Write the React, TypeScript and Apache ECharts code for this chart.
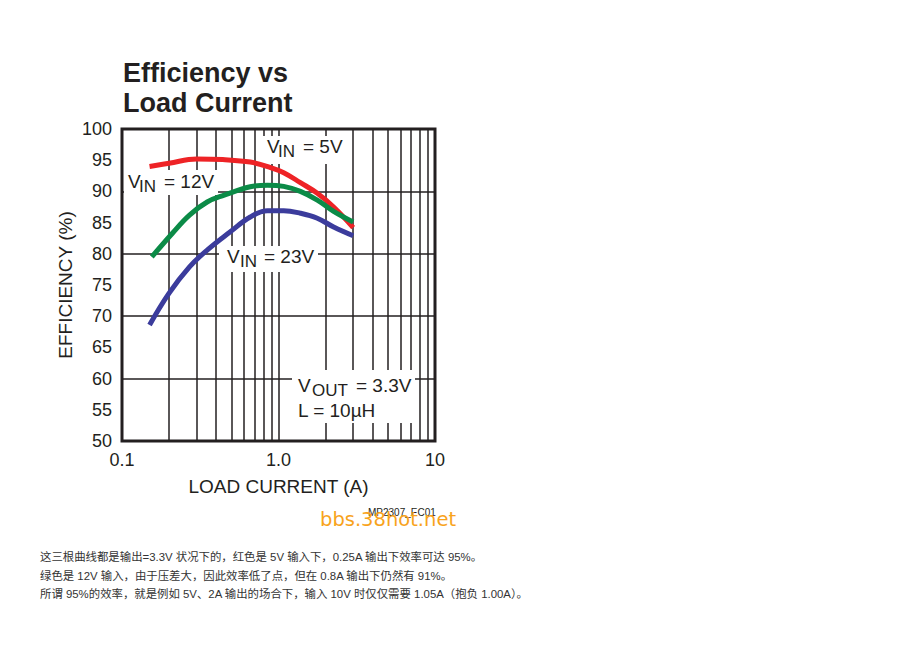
import React, { useEffect, useRef } from 'react';
import * as echarts from 'echarts';

// ---- data ----
const currents5V = [0.15, 0.2, 0.3, 0.44, 0.66, 0.89, 1.08, 1.38, 1.77, 2.25, 3.0];
const efficiency5V = [94.0, 94.5, 95.2, 95.1, 94.7, 93.8, 93.0, 91.4, 89.7, 87.5, 84.2];

const currents12V = [0.155, 0.21, 0.27, 0.35, 0.45, 0.66, 0.85, 1.08, 1.38, 1.77, 2.25, 3.0];
const efficiency12V = [79.5, 83.3, 86.2, 88.3, 89.4, 90.75, 91.0, 90.8, 90.0, 88.6, 86.8, 85.1];

const currents23V = [0.15, 0.2, 0.27, 0.35, 0.49, 0.66, 0.85, 1.08, 1.38, 1.77, 2.25, 3.0];
const efficiency23V = [68.6, 73.7, 77.9, 80.6, 83.5, 85.9, 86.9, 86.9, 86.5, 85.7, 84.3, 82.9];

const xTickValues = [0.1, 1, 10];
const xTickLabels = ['0.1', '1.0', '10'];
const xGridValues = [0.2, 0.3, 0.4, 0.5, 0.6, 0.7, 0.8, 0.9, 1, 2, 3, 4, 5, 6, 7, 8, 9];
const yGridValues = [60, 70, 80, 90];

const noteLines = [
  '这三根曲线都是输出=3.3V 状况下的，红色是 5V 输入下，0.25A 输出下效率可达 95%。',
  '绿色是 12V 输入，由于压差大，因此效率低了点，但在 0.8A 输出下仍然有 91%。',
  '所谓 95%的效率，就是例如 5V、2A 输出的场合下，输入 10V 时仅仅需要 1.05A（抱负 1.00A）。',
];

const FONT = '"Liberation Sans", Arial, Helvetica, sans-serif';
const INK = '#231f20';

function txt(x: number, y: number, text: string, fontSize: number, extra: any = {}) {
  return {
    type: 'text',
    x,
    y,
    z: 8,
    silent: true,
    style: {
      text,
      fill: INK,
      fontSize,
      fontFamily: FONT,
      align: 'left',
      textAlign: 'left',
      verticalAlign: 'middle',
      textVerticalAlign: 'middle',
      ...extra,
    },
  };
}

function box(x: number, y: number, w: number, h: number) {
  return {
    type: 'rect',
    z: 3,
    silent: true,
    shape: { x, y, width: w, height: h },
    style: { fill: '#ffffff' },
  };
}

function vinLabel(x0: number, yMid: number, rest: string, subDx: number, restDx: number) {
  return [
    txt(x0, yMid, 'V', 19),
    txt(x0 + subDx, yMid + 5, 'IN', 17),
    txt(x0 + restDx, yMid, rest, 19),
  ];
}

export default function App() {
  const ref = useRef<HTMLDivElement>(null);

  useEffect(() => {
    const chart = echarts.init(ref.current!, null, { renderer: 'svg' });

    const pairs = (xs: number[], ys: number[]) => xs.map((x, i) => [x, ys[i]]);

    const curve = (name: string, color: string, data: number[][]) => ({
      name,
      type: 'line',
      z: 6,
      data,
      smooth: 0.4,
      showSymbol: false,
      symbol: 'none',
      silent: true,
      lineStyle: { color, width: 5 },
    });

    chart.setOption({
      animation: false,
      backgroundColor: '#ffffff',
      grid: {
        left: 122,
        top: 129,
        width: 313,
        height: 312,
        show: true,
        borderColor: INK,
        borderWidth: 3,
        backgroundColor: 'transparent',
        containLabel: false,
        z: 0,
      },
      xAxis: {
        type: 'log',
        logBase: 10,
        min: 0.1,
        max: 10,
        axisLine: { show: false },
        axisTick: { show: false },
        splitLine: { show: false },
        minorTick: { show: false },
        axisLabel: {
          show: true,
          showMinLabel: true,
          showMaxLabel: true,
          margin: 10,
          fontSize: 18,
          color: INK,
          fontFamily: FONT,
          formatter: (v: number) => {
            const i = xTickValues.findIndex((t) => Math.abs(t - v) / t < 1e-6);
            return i >= 0 ? xTickLabels[i] : '';
          },
        },
        name: 'LOAD CURRENT (A)',
        nameLocation: 'middle',
        nameGap: 36,
        nameTextStyle: { fontSize: 19, color: INK, fontFamily: FONT },
      },
      yAxis: {
        type: 'value',
        min: 50,
        max: 100,
        interval: 5,
        axisLine: { show: false },
        axisTick: { show: false },
        splitLine: { show: false },
        axisLabel: { margin: 10, fontSize: 18, color: INK, fontFamily: FONT },
        name: 'EFFICIENCY (%)',
        nameLocation: 'middle',
        nameRotate: 90,
        nameGap: 47,
        nameTextStyle: { fontSize: 19, color: INK, fontFamily: FONT },
      },
      series: [
        {
          name: 'grid',
          type: 'line',
          z: 1,
          data: [],
          silent: true,
          markLine: {
            z: 1,
            silent: true,
            symbol: ['none', 'none'],
            label: { show: false },
            emphasis: { disabled: true },
            lineStyle: { color: INK, width: 1.5, type: 'solid' },
            data: [
              ...xGridValues.map((v) => ({ xAxis: v })),
              ...yGridValues.map((v) => ({ yAxis: v })),
            ],
          },
        },
        curve('VIN = 5V', '#ee2326', pairs(currents5V, efficiency5V)),
        curve('VIN = 12V', '#0b8b47', pairs(currents12V, efficiency12V)),
        curve('VIN = 23V', '#3b3c9c', pairs(currents23V, efficiency23V)),
      ],
      graphic: [
        // title
        txt(123, 73, 'Efficiency vs', 27, { fontWeight: 'bold' }),
        txt(123, 103, 'Load Current', 27, { fontWeight: 'bold' }),
        // label boxes (interrupt grid lines)
        box(258, 136, 91, 28),
        box(124, 170, 94, 25),
        box(219, 246, 99, 26),
        box(292, 370, 123, 53),
        ...vinLabel(267, 146.5, '= 5V', 11, 36),
        ...vinLabel(128, 181.5, '= 12V', 11, 36),
        ...vinLabel(227, 256.5, '= 23V', 13, 37),
        txt(298, 385, 'V', 19),
        txt(312, 390, 'OUT', 17),
        txt(356, 385, '= 3.3V', 19),
        txt(298, 410, 'L = 10µH', 19),
        // figure id and watermark
        txt(368, 512.5, 'MP2307_EC01', 10),
        txt(320, 519, 'bbs.38hot.net', 19.5, { fill: '#f8a31c', fontFamily: '"DejaVu Sans", Verdana, sans-serif' }),
        // notes
        ...noteLines.map((line, i) =>
          txt(40, 557 + i * 18.5, line, 11.4, {
            fill: '#333333',
            fontFamily: '"Liberation Sans", Arial, "Noto Sans CJK SC", sans-serif',
          })
        ),
      ],
    });

    return () => chart.dispose();
  }, []);

  return (
    <div
      ref={ref}
      style={{ position: 'absolute', left: 0, top: 0, width: 920, height: 651, background: '#ffffff' }}
    />
  );
}
